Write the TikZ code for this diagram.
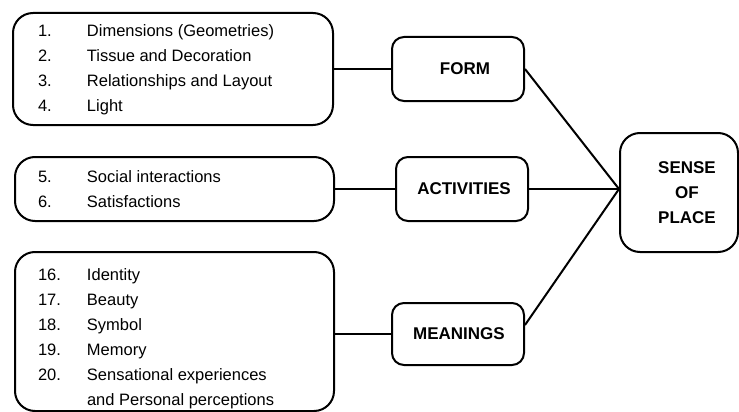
\documentclass[tikz,border=0pt]{standalone}
\usepackage{fontspec}
\setmainfont{Liberation Sans}
\usetikzlibrary{calc}
\begin{document}
\begin{tikzpicture}[x=1pt,y=-1pt,
  line width=2pt,
  listbox/.style={draw, rounded corners=20pt, inner sep=0pt},
  catbox/.style={draw, rounded corners=12pt, inner sep=0pt, minimum width=132pt},
  sopbox/.style={draw, rounded corners=20pt, inner sep=0pt, minimum width=118pt, minimum height=119pt},
  listtext/.style={inner sep=0pt, anchor=base west, font=\fontsize{16.5}{25}\selectfont},
  catlabel/.style={inner sep=0pt, font=\fontsize{17}{25}\selectfont\bfseries},
  link/.style={line width=2pt}]
  \useasboundingbox (0,0) rectangle (739,412);

  % item lists
  \node[listbox, minimum width=320pt, minimum height=112pt] (l1) at (173,69) {};
  \node[listbox, minimum width=319pt, minimum height=64pt] (l2) at (174.5,189) {};
  \node[listbox, minimum width=319pt, minimum height=159pt] (l3) at (174.5,331.5) {};

  \node[listtext] (t1) at (37,37) {\begin{tabular}[t]{@{}p{49pt}@{}l@{}}
    1. & Dimensions (Geometries)\\
    2. & Tissue and Decoration\\
    3. & Relationships and Layout\\
    4. & Light
  \end{tabular}};
  \node[listtext] (t2) at (37,182) {\begin{tabular}[t]{@{}p{49pt}@{}l@{}}
    5. & Social interactions\\
    6. & Satisfactions
  \end{tabular}};
  \node[listtext] (t3) at (37,280) {\begin{tabular}[t]{@{}p{49pt}@{}l@{}}
    16. & Identity\\
    17. & Beauty\\
    18. & Symbol\\
    19. & Memory\\
    20. & Sensational experiences\\
        & and Personal perceptions
  \end{tabular}};

  % categories
  \node[catbox, minimum height=64pt] (form) at (458,69) {};
  \node[catbox, minimum height=64pt] (act) at (462,189) {};
  \node[catbox, minimum height=62pt] (mean) at (458,334) {};
  \node[catlabel] (formlabel) at ([xshift=7pt]form.center) {FORM};
  \node[catlabel] (actlabel) at ([xshift=2pt]act.center) {ACTIVITIES};
  \node[catlabel] (meanlabel) at ([xshift=1pt]mean.center) {MEANINGS};

  % sense of place
  \node[sopbox] (sop) at (679,192.5) {};
  \node[catlabel, align=center] (soplabel) at ([xshift=8pt]sop.center) {SENSE\\OF\\PLACE};

  % connectors
  \coordinate (hub) at (sop.west |- act.east);
  \draw[link] (l1.east |- form.west) -- (form.west);
  \draw[link] (l2.east |- act.west) -- (act.west);
  \draw[link] (l3.east |- mean.west) -- (mean.west);
  \draw[link] (form.east) -- (hub);
  \draw[link] (act.east) -- (hub);
  \draw[link] ([yshift=9pt]mean.east) -- (hub);
\end{tikzpicture}
\end{document}
